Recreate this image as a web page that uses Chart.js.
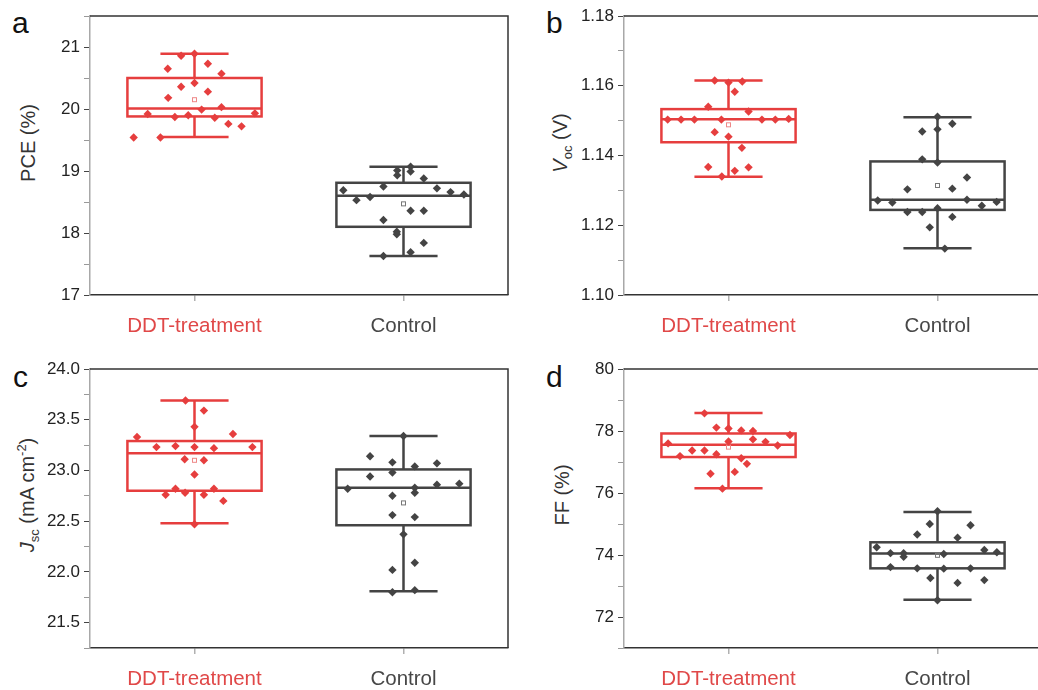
<!DOCTYPE html>
<html lang="en">
<head>
<meta charset="UTF-8">
<title>DDT-treatment vs Control</title>
<script src="https://cdn.jsdelivr.net/npm/chart.js"></script>
<style>
  html, body { margin: 0; padding: 0; background: #fff; overflow: hidden; width: 1038px; height: 690px; }
  body { position: relative; font-family: 'Liberation Sans', Arial, sans-serif; }
  canvas { position: absolute; }
  .letter { position: absolute; font-size: 30px; line-height: 1; color: #111; }
  .ytitle { position: absolute; font-size: 20px; color: #333; white-space: nowrap; line-height: 1;
            transform: translate(-50%, -50%) rotate(-90deg); }
  .ytitle sub, .ytitle sup { font-size: 13px; }
</style>
</head>
<body>
  <div class="letter" style="left:12px; top:8px;">a</div>
  <div class="letter" style="left:546px; top:8px;">b</div>
  <div class="letter" style="left:13px; top:362px;">c</div>
  <div class="letter" style="left:546px; top:362px;">d</div>

  <div class="ytitle" style="left:28px; top:143px;">PCE (%)</div>
  <div class="ytitle" style="left:562px; top:143px;"><i>V</i><sub>oc</sub> (V)</div>
  <div class="ytitle" style="left:28px; top:495px;"><i>J</i><sub>sc</sub> (mA cm<sup>-2</sup>)</div>
  <div class="ytitle" style="left:562px; top:495px;">FF (%)</div>

  <canvas id="pce" width="519" height="345" style="left:0; top:0;"></canvas>
  <canvas id="voc" width="519" height="345" style="left:534px; top:0;"></canvas>
  <canvas id="jsc" width="519" height="345" style="left:0; top:353px;"></canvas>
  <canvas id="ff" width="519" height="345" style="left:534px; top:353px;"></canvas>

<script>
const categories = ['DDT-treatment', 'Control'];

// PCE (%)
const pceDdt = [20.86, 20.89, 20.65, 20.73, 20.57, 20.42, 20.36, 20.28, 20.18, 19.99,
                20.03, 19.92, 19.87, 19.90, 19.86, 19.93, 19.76, 19.72, 19.54, 19.54];
const pceDdtJitter = [-0.064, 0, -0.128, 0.064, 0.129, 0, -0.064, 0.064, -0.126, 0.034,
                      0.129, -0.224, -0.094, -0.030, 0.097, 0.289, 0.162, 0.225, -0.291, -0.163];
const pceControl = [19.01, 18.93, 19.07, 18.99, 18.88, 18.75, 18.69, 18.72, 18.66, 18.62,
                    18.53, 18.58, 18.36, 18.36, 18.21, 18.02, 17.98, 17.84, 17.69, 17.63];
const pceControlJitter = [-0.030, -0.030, 0.034, 0.034, 0.097, -0.096, -0.288, 0.160, 0.225, 0.289,
                          -0.225, -0.160, 0.034, 0.097, -0.096, -0.032, -0.032, 0.097, 0.034, -0.096];
// box stats: lower whisker, Q1, median, Q3, upper whisker, mean
const pceDdtBox = [19.55, 19.88, 20.01, 20.50, 20.89, 20.15];
const pceControlBox = [17.63, 18.10, 18.60, 18.81, 19.07, 18.47];

// Voc (V)
const vocDdt = [1.1615, 1.1609, 1.1612, 1.1583, 1.1540, 1.1526, 1.1503, 1.1503, 1.1503, 1.1503,
                1.1503, 1.1503, 1.1505, 1.1467, 1.1454, 1.1422, 1.1367, 1.1366, 1.1356, 1.1340];
const vocDdtJitter = [-0.066, 0, 0.066, 0.030, -0.097, 0.096, -0.291, -0.227, -0.163, -0.034,
                      0.160, 0.224, 0.288, -0.066, 0, 0.064, -0.097, 0.096, 0.030, -0.032];
const vocControl = [1.1511, 1.1491, 1.1469, 1.1475, 1.1389, 1.1380, 1.1337, 1.1303, 1.1305, 1.1271,
                    1.1265, 1.1273, 1.1256, 1.1267, 1.1238, 1.1238, 1.1249, 1.1224, 1.1194, 1.1133];
const vocControlJitter = [0, 0.071, -0.073, 0, -0.073, 0, 0.141, -0.144, 0.071, -0.286,
                          -0.216, 0.141, 0.212, 0.283, -0.144, -0.073, 0, 0.071, -0.037, 0.035];
const vocDdtBox = [1.1339, 1.1438, 1.1504, 1.1533, 1.1615, 1.1488];
const vocControlBox = [1.1134, 1.1244, 1.1273, 1.1383, 1.1510, 1.1314];

// Jsc (mA cm-2)
const jscDdt = [23.69, 23.59, 23.43, 23.33, 23.36, 23.23, 23.24, 23.23, 23.22, 23.23,
                23.11, 23.10, 22.96, 22.82, 22.82, 22.76, 22.78, 22.76, 22.70, 22.47];
const jscDdtJitter = [-0.043, 0.045, 0, -0.275, 0.184, -0.182, -0.091, 0, 0.093, 0.277,
                      -0.047, 0.045, 0, -0.091, 0.093, -0.138, -0.045, 0.045, 0.138, 0];
const jscControl = [23.34, 23.14, 23.08, 23.04, 23.07, 22.98, 22.94, 22.82, 22.83, 22.86,
                    22.87, 22.78, 22.75, 22.56, 22.54, 22.37, 22.09, 22.02, 21.82, 21.80];
const jscControlJitter = [0, -0.160, -0.053, 0.054, 0.160, -0.053, -0.160, -0.267, 0.054, 0.160,
                          0.267, 0.054, -0.053, -0.053, 0.054, 0, 0.054, -0.053, 0.054, -0.053];
const jscDdtBox = [22.48, 22.80, 23.17, 23.29, 23.69, 23.10];
const jscControlBox = [21.81, 22.46, 22.83, 23.01, 23.34, 22.68];

// FF (%)
const ffDdt = [78.57, 78.11, 78.08, 78.02, 78.00, 77.87, 77.73, 77.60, 77.66, 77.65,
               77.53, 77.19, 77.37, 77.37, 77.25, 77.12, 76.94, 76.62, 76.68, 76.14];
const ffDdtJitter = [-0.115, -0.058, 0, 0.061, 0.117, 0.294, 0.117, -0.289, 0, 0.177,
                     0.235, -0.232, -0.174, -0.115, -0.058, 0.061, 0.088, -0.086, 0.030, -0.029];
const ffControl = [75.41, 75.00, 74.96, 74.66, 74.56, 74.25, 74.16, 74.06, 74.06, 74.03,
                   74.09, 73.94, 73.61, 73.57, 73.56, 73.57, 73.26, 73.19, 73.10, 72.54];
const ffControlJitter = [0, -0.037, 0.158, -0.097, 0.096, -0.291, 0.224, -0.225, -0.162, 0.030,
                         0.284, -0.162, -0.225, -0.097, 0.030, 0.158, -0.034, 0.224, 0.096, 0];
const ffDdtBox = [76.15, 77.16, 77.56, 77.92, 78.58, 77.48];
const ffControlBox = [72.56, 73.57, 74.05, 74.41, 75.39, 73.99];

const RED = '#e63e3e';
const GREY = '#444444';
const labelColors = ['#e04848', '#474747'];
const FONT = "'Liberation Sans', Arial, sans-serif";

function toPoints(values, jitter, idx) {
  return values.map((v, i) => ({ x: idx + 0.5 + jitter[i], y: v }));
}

function boxPlugin(groups) {
  return {
    id: 'boxes',
    beforeDatasetsDraw(chart) {
      const { ctx, scales: { x, y } } = chart;
      groups.forEach((g, i) => {
        const [lo, q1, med, q3, hi, mean] = g.stats;
        const cx = x.getPixelForValue(i + 0.5);
        const half = x.getPixelForValue(i + 0.5 + 0.321) - cx;
        const cap = x.getPixelForValue(i + 0.5 + 0.163) - cx;
        const yLo = y.getPixelForValue(lo), yQ1 = y.getPixelForValue(q1);
        const yMed = y.getPixelForValue(med), yQ3 = y.getPixelForValue(q3);
        const yHi = y.getPixelForValue(hi), yMean = y.getPixelForValue(mean);
        ctx.save();
        ctx.strokeStyle = g.color;
        ctx.lineWidth = 2.5;
        ctx.strokeRect(cx - half, yQ3, 2 * half, yQ1 - yQ3);
        ctx.beginPath();
        ctx.moveTo(cx - half, yMed); ctx.lineTo(cx + half, yMed);
        ctx.moveTo(cx, yQ3); ctx.lineTo(cx, yHi);
        ctx.moveTo(cx, yQ1); ctx.lineTo(cx, yLo);
        ctx.moveTo(cx - cap, yHi); ctx.lineTo(cx + cap, yHi);
        ctx.moveTo(cx - cap, yLo); ctx.lineTo(cx + cap, yLo);
        ctx.stroke();
        ctx.lineWidth = 1;
        ctx.strokeStyle = g.meanColor;
        ctx.strokeRect(cx - 2, yMean - 2, 4, 4);
        ctx.restore();
      });
    },
    afterDraw(chart) {
      const { ctx, chartArea: a } = chart;
      ctx.save();
      ctx.strokeStyle = '#333';
      ctx.lineWidth = 1.5;
      ctx.beginPath();
      ctx.moveTo(a.left, a.top); ctx.lineTo(a.right, a.top); ctx.lineTo(a.right, a.bottom);
      ctx.stroke();
      ctx.restore();
    }
  };
}

function makePanel(id, p) {
  const isMajor = v => Math.abs(v / p.major - Math.round(v / p.major)) < 1e-6;
  new Chart(document.getElementById(id), {
    type: 'scatter',
    data: {
      datasets: [
        { data: toPoints(p.ddt, p.ddtJitter, 0), backgroundColor: RED },
        { data: toPoints(p.ctrl, p.ctrlJitter, 1), backgroundColor: GREY }
      ]
    },
    options: {
      responsive: false,
      animation: false,
      events: [],
      layout: { padding: { top: 16, right: 11, left: 0, bottom: 0 } },
      elements: { point: { pointStyle: 'rectRot', radius: 4.2, borderWidth: 0 } },
      plugins: { legend: { display: false }, tooltip: { enabled: false } },
      scales: {
        x: {
          type: 'linear', min: 0, max: 2,
          afterBuildTicks: s => { s.ticks = [{ value: 0.5 }, { value: 1.5 }]; },
          afterFit: s => { s.height = 50; },
          ticks: {
            callback: (v, i) => categories[i],
            color: c => labelColors[c.index],
            font: { size: 20.5, family: FONT },
            padding: 13
          },
          grid: { drawOnChartArea: false, tickLength: 6, color: '#b0b0b0', lineWidth: 1.5 },
          border: { color: '#333', width: 1.5 }
        },
        y: {
          min: p.min, max: p.max,
          afterFit: s => { s.width = 90; },
          ticks: {
            stepSize: p.step, autoSkip: false,
            callback: v => isMajor(v) ? v.toFixed(p.dec) : '',
            color: '#222',
            font: { size: 17, family: FONT },
            padding: 4
          },
          grid: {
            drawOnChartArea: false, tickLength: 6, lineWidth: 1,
            color: c => (c.tick && isMajor(c.tick.value)) ? '#444' : '#999'
          },
          border: { color: '#a8a8a8', width: 1.5 }
        }
      }
    },
    plugins: [boxPlugin([
      { stats: p.ddtBox, color: RED, meanColor: '#e88' },
      { stats: p.ctrlBox, color: GREY, meanColor: '#777' }
    ])]
  });
}

makePanel('pce', { min: 17, max: 21.5, step: 0.5, major: 1, dec: 0,
  ddt: pceDdt, ddtJitter: pceDdtJitter, ctrl: pceControl, ctrlJitter: pceControlJitter,
  ddtBox: pceDdtBox, ctrlBox: pceControlBox });
makePanel('voc', { min: 1.10, max: 1.18, step: 0.01, major: 0.02, dec: 2,
  ddt: vocDdt, ddtJitter: vocDdtJitter, ctrl: vocControl, ctrlJitter: vocControlJitter,
  ddtBox: vocDdtBox, ctrlBox: vocControlBox });
makePanel('jsc', { min: 21.25, max: 24, step: 0.25, major: 0.5, dec: 1,
  ddt: jscDdt, ddtJitter: jscDdtJitter, ctrl: jscControl, ctrlJitter: jscControlJitter,
  ddtBox: jscDdtBox, ctrlBox: jscControlBox });
makePanel('ff', { min: 71, max: 80, step: 1, major: 2, dec: 0,
  ddt: ffDdt, ddtJitter: ffDdtJitter, ctrl: ffControl, ctrlJitter: ffControlJitter,
  ddtBox: ffDdtBox, ctrlBox: ffControlBox });
</script>
</body>
</html>
